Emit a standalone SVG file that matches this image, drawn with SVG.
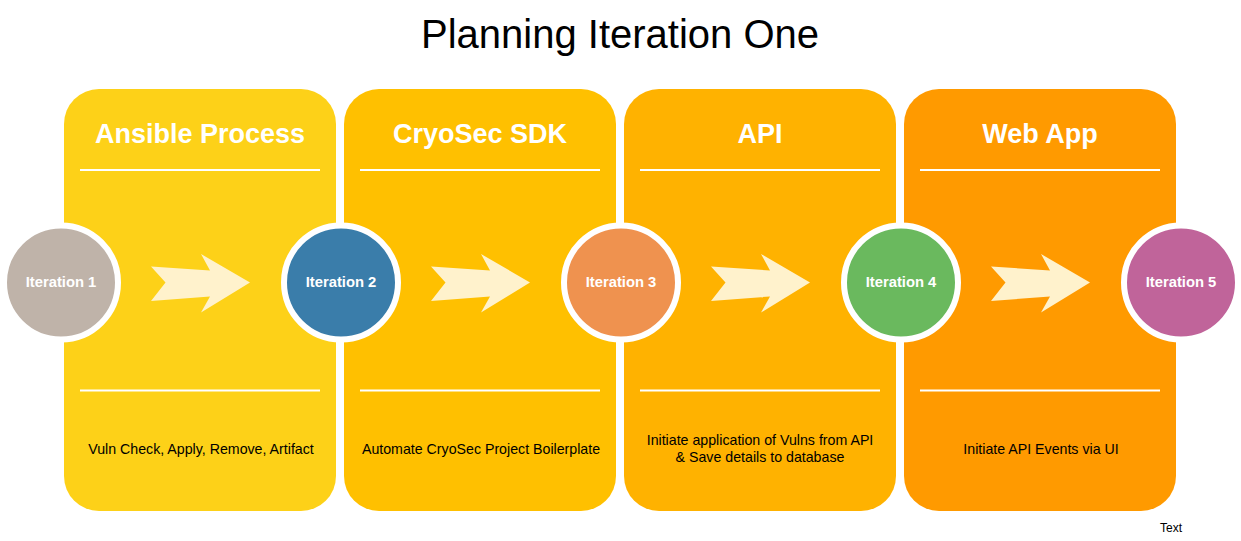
<svg xmlns="http://www.w3.org/2000/svg" width="1241" height="541" viewBox="0 0 1241 541">
<style>
.panel{stroke:none}
.sep{stroke:#FFFFFF;stroke-width:2}
.head{font-family:"Liberation Sans",Arial,sans-serif;font-weight:bold;font-size:27px;fill:#FFFFFF;text-anchor:middle}
.desc{font-family:"Liberation Sans",Arial,sans-serif;font-size:14.2px;fill:#000000;text-anchor:middle}
.circ{stroke:#FFFFFF;stroke-width:6}
.clabel{font-family:"Liberation Sans",Arial,sans-serif;font-weight:bold;font-size:14.8px;fill:#FFFFFF;text-anchor:middle}
.arrow{fill:#FFF2CC}
</style>
<defs>
<polygon id="arr" points="-49,-16 -34.5,0 -49,18.5 10,14 1,30 50,0 1,-28.5 10,-12"/>
</defs>
<rect width="1241" height="541" fill="#FFFFFF"/>
<text x="620" y="48" font-family="'Liberation Sans',Arial,sans-serif" font-size="40" fill="#000000" text-anchor="middle">Planning Iteration One</text>

<g id="panel-ansible">
<rect class="panel" x="64" y="89" width="272" height="422" rx="35" fill="#FDD118"/>
<text class="head" x="200" y="143">Ansible Process</text>
<line class="sep" x1="80" y1="170" x2="320" y2="170"/>
<line class="sep" x1="80" y1="390.5" x2="320" y2="390.5"/>
<text class="desc" x="201" y="454">Vuln Check, Apply, Remove, Artifact</text>
</g>
<g id="panel-sdk">
<rect class="panel" x="344" y="89" width="272" height="422" rx="35" fill="#FFC000"/>
<text class="head" x="480" y="143">CryoSec SDK</text>
<line class="sep" x1="360" y1="170" x2="600" y2="170"/>
<line class="sep" x1="360" y1="390.5" x2="600" y2="390.5"/>
<text class="desc" x="481" y="454">Automate CryoSec Project Boilerplate</text>
</g>
<g id="panel-api">
<rect class="panel" x="624" y="89" width="272" height="422" rx="35" fill="#FFB200"/>
<text class="head" x="760" y="143">API</text>
<line class="sep" x1="640" y1="170" x2="880" y2="170"/>
<line class="sep" x1="640" y1="390.5" x2="880" y2="390.5"/>
<text class="desc" x="760" y="445">Initiate application of Vulns from API</text>
<text class="desc" x="760" y="462">&amp; Save details to database</text>
</g>
<g id="panel-webapp">
<rect class="panel" x="904" y="89" width="272" height="422" rx="35" fill="#FF9A00"/>
<text class="head" x="1040" y="143">Web App</text>
<line class="sep" x1="920" y1="170" x2="1160" y2="170"/>
<line class="sep" x1="920" y1="390.5" x2="1160" y2="390.5"/>
<text class="desc" x="1041" y="454">Initiate API Events via UI</text>
</g>

<g id="connectors">
<use href="#arr" class="arrow" x="200" y="282.5"/>
<use href="#arr" class="arrow" x="480" y="282.5"/>
<use href="#arr" class="arrow" x="760" y="282.5"/>
<use href="#arr" class="arrow" x="1040" y="282.5"/>
</g>

<g id="iteration-1">
<circle class="circ" cx="61" cy="282.5" r="57" fill="#BFB3A9"/>
<text class="clabel" x="61" y="287">Iteration 1</text>
</g>
<g id="iteration-2">
<circle class="circ" cx="341" cy="282.5" r="57" fill="#3A7DAA"/>
<text class="clabel" x="341" y="287">Iteration 2</text>
</g>
<g id="iteration-3">
<circle class="circ" cx="621" cy="282.5" r="57" fill="#EF924F"/>
<text class="clabel" x="621" y="287">Iteration 3</text>
</g>
<g id="iteration-4">
<circle class="circ" cx="901" cy="282.5" r="57" fill="#6AB95E"/>
<text class="clabel" x="901" y="287">Iteration 4</text>
</g>
<g id="iteration-5">
<circle class="circ" cx="1181" cy="282.5" r="57" fill="#C0649A"/>
<text class="clabel" x="1181" y="287">Iteration 5</text>
</g>

<text x="1171" y="532" font-family="'Liberation Sans',Arial,sans-serif" font-size="12" fill="#000000" text-anchor="middle">Text</text>
</svg>
